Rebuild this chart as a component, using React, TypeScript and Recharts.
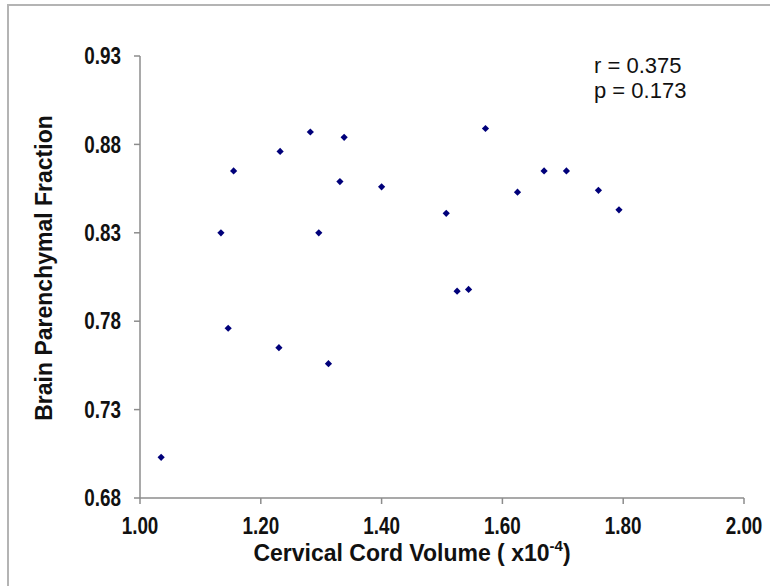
import React from 'react';
import { ScatterChart, Scatter, XAxis, YAxis } from 'recharts';

// cervical cord volume (x10^-4) vs brain parenchymal fraction
const cordVolume = [
  1.155, 1.134, 1.232, 1.282, 1.338, 1.331, 1.296, 1.4, 1.572, 1.507, 1.625,
  1.669, 1.706, 1.759, 1.793, 1.525, 1.544, 1.146, 1.23, 1.312, 1.035,
];
const bpf = [
  0.865, 0.83, 0.876, 0.887, 0.884, 0.859, 0.83, 0.856, 0.889, 0.841, 0.853,
  0.865, 0.865, 0.854, 0.843, 0.797, 0.798, 0.776, 0.765, 0.756, 0.703,
];
const xTicks = [1.0, 1.2, 1.4, 1.6, 1.8, 2.0];
const yTicks = [0.68, 0.73, 0.78, 0.83, 0.88, 0.93];
const stats = ['r = 0.375', 'p = 0.173'];

const points = cordVolume.map((v, i) => ({ x: v, y: bpf[i] }));

const FONT = '"Liberation Sans", Arial, sans-serif';
const AXIS_GREY = '#8c8c8c';
const TICK_FS = 23;
// tick labels in the original are a narrow bold face
const NARROW = 0.82;

const Diamond = (props: any) => {
  const { cx, cy } = props;
  const r = 3.6;
  return (
    <polygon
      points={`${cx},${cy - r} ${cx + r},${cy} ${cx},${cy + r} ${cx - r},${cy}`}
      fill="#00007a"
    />
  );
};

const XTick = (props: any) => {
  const { x, y, payload } = props;
  return (
    <text
      transform={`translate(${x},${y}) scale(${NARROW},1)`}
      dy={TICK_FS * 0.716}
      textAnchor="middle"
      fontFamily={FONT}
      fontWeight="bold"
      fontSize={TICK_FS}
      fill="#111">
      {Number(payload.value).toFixed(2)}
    </text>
  );
};

const YTick = (props: any) => {
  const { x, y, payload } = props;
  return (
    <text
      transform={`translate(${x},${y}) scale(${NARROW},1)`}
      dy={TICK_FS * 0.36}
      textAnchor="end"
      fontFamily={FONT}
      fontWeight="bold"
      fontSize={TICK_FS}
      fill="#111">
      {Number(payload.value).toFixed(2)}
    </text>
  );
};

const XTitle = (props: any) => {
  const { viewBox } = props;
  const cx = viewBox.x + viewBox.width / 2 - 30;
  return (
    <text
      x={cx}
      y={viewBox.y + 63}
      textAnchor="middle"
      fontFamily={FONT}
      fontWeight="bold"
      fontSize={23}
      fill="#111">
      Cervical Cord Volume ( x10
      <tspan fontSize={15} dy={-10}>
        -4
      </tspan>
      <tspan dy={10}>)</tspan>
    </text>
  );
};

const YTitle = (props: any) => {
  const { viewBox } = props;
  const x = viewBox.x - 28;
  const y = viewBox.y + viewBox.height / 2 - 9;
  return (
    <text
      x={x}
      y={y}
      transform={`rotate(-90, ${x}, ${y})`}
      textAnchor="middle"
      fontFamily={FONT}
      fontWeight="bold"
      fontSize={23}
      fill="#111">
      Brain Parenchymal Fraction
    </text>
  );
};

const App: React.FC = () => {
  return (
    <div
      style={{
        position: 'absolute',
        left: 0,
        top: 0,
        width: 770,
        height: 586,
        overflow: 'hidden',
        background: '#fff',
      }}>
      <div
        style={{
          position: 'absolute',
          left: 7,
          top: 4,
          width: 800,
          height: 620,
          border: '2px solid #b4b4b4',
        }}
      />
      <ScatterChart
        width={770}
        height={586}
        margin={{ top: 56, right: 26, left: 80, bottom: 28 }}>
        <XAxis
          type="number"
          dataKey="x"
          domain={[1, 2]}
          ticks={xTicks}
          height={60}
          stroke={AXIS_GREY}
          strokeWidth={1.5}
          tickSize={6}
          tickMargin={14}
          tick={<XTick />}
          label={<XTitle />}
        />
        <YAxis
          type="number"
          dataKey="y"
          domain={[0.68, 0.93]}
          ticks={yTicks}
          width={60}
          stroke={AXIS_GREY}
          strokeWidth={1.5}
          tickSize={6}
          tickMargin={13}
          tick={<YTick />}
          label={<YTitle />}
        />
        <Scatter data={points} shape={<Diamond />} isAnimationActive={false} />
      </ScatterChart>
      <div
        style={{
          position: 'absolute',
          left: 594,
          top: 53,
          fontFamily: FONT,
          fontSize: 22,
          lineHeight: '25px',
          color: '#111',
        }}>
        {stats.map((s) => (
          <div key={s}>{s}</div>
        ))}
      </div>
    </div>
  );
};

export default App;
